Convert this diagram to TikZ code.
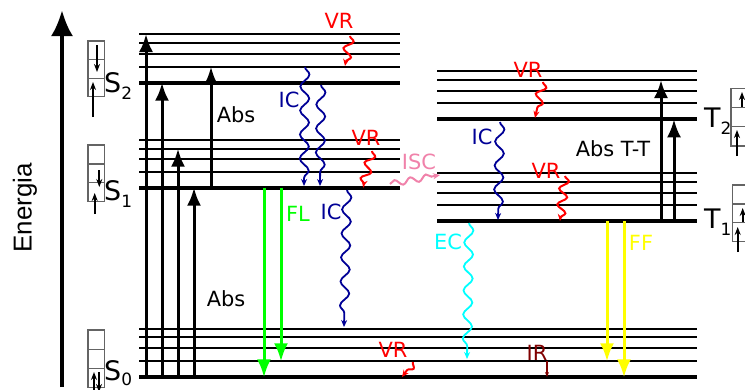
\documentclass[tikz,border=0pt]{standalone}
\usepackage{fontspec}
\setmainfont{DejaVu Sans}
\newfontfamily\arialfont{Liberation Sans}
\usetikzlibrary{arrows.meta,decorations.pathmorphing}
\definecolor{icblue}{RGB}{0,0,150}
\definecolor{iscpink}{RGB}{240,130,170}
\definecolor{irred}{RGB}{128,0,0}
\definecolor{boxgray}{RGB}{100,100,100}
\definecolor{flgreen}{RGB}{0,255,0}
\definecolor{ecyan}{RGB}{0,255,255}
\definecolor{ffyellow}{RGB}{255,255,0}
\newcommand{\sublab}[1]{\raisebox{-7bp}{\fontsize{17}{17}\selectfont #1}}
\begin{document}
\begin{tikzpicture}[x={(1bp,0)},y={(0,-1bp)},
 lev/.style={line width=2bp},
 mainlev/.style={line width=4bp},
 bigarrow/.style={line width=3bp,-{Latex[length=18bp,width=14bp]}},
 wavy/.style={line width=1.8bp, decorate, decoration={snake,segment length=24bp,amplitude=4.5bp,post length=3bp}, -{Stealth[length=7bp,width=6bp]}},
 vrwave/.style={red, line width=2bp, decorate, decoration={snake,segment length=16bp,amplitude=4.5bp,post length=3bp}, -{Stealth[length=7bp,width=6bp]}},
 lab/.style={font=\fontsize{21}{21}\selectfont, inner sep=0pt},
 statelab/.style={font=\fontsize{27}{27}\selectfont, inner sep=0pt, anchor=base west},
 spinbox/.style={draw=boxgray, line width=1.2bp},
 spin/.style={line width=1.8bp, -{Stealth[length=8bp,width=6bp]}},
]
\useasboundingbox (0,0) rectangle (745,389);
\clip (0,0) rectangle (745,389);

% energy axis
\coordinate (Ebot) at (62,387);
\coordinate (Etop) at (62,10);
\draw[line width=4bp,-{Latex[length=26bp,width=22bp]}] (Ebot) -- (Etop);
\node[rotate=90, font=\arialfont\fontsize{26}{26}\selectfont, inner sep=0pt] (energia) at (25,208) {Energia};

% singlet levels
\foreach \y in {34,43.3,54,66.7,140,148.7,159.3,172} \draw[lev] (139,\y) -- (400,\y);
\draw[mainlev] (139,82.7) -- (400,82.7);
\draw[mainlev] (139,187.7) -- (400,187.7);
\foreach \y in {329,337.3,348.3,361.3} \draw[lev] (139,\y) -- (697,\y);
\draw[mainlev] (139,377.3) -- (697,377.3);
% triplet levels
\foreach \y in {70.7,80,90.7,102.7,172.7,182,193.3,205} \draw[lev] (437,\y) -- (697,\y);
\draw[mainlev] (437,119.3) -- (697,119.3);
\draw[mainlev] (437,221.3) -- (697,221.3);

% state labels
\node[statelab] (S2) at (104,92) {S\sublab{2}};
\node[statelab] (S1) at (104,200) {S\sublab{1}};
\node[statelab] (S0) at (104,380) {S\raisebox{-5bp}{\fontsize{17}{17}\selectfont 0}};
\node[statelab] (T2) at (704,127) {T\sublab{2}};
\node[statelab] (T1) at (704,228) {T\sublab{1}};

% spin boxes
\draw[spinbox] (88,41) rectangle (104.5,96.7) (88,59.6) -- (104.5,59.6) (88,78.3) -- (104.5,78.3);
\draw[spinbox] (88,145) rectangle (104.5,201.7) (88,164) -- (104.5,164) (88,182.3) -- (104.5,182.3);
\draw[spinbox] (88,330) rectangle (104.5,387.5) (88,349.3) -- (104.5,349.3) (88,368.3) -- (104.5,368.3);
\draw[spinbox] (731,88.3) rectangle (748,146) (731,107.7) -- (748,107.7) (731,126.7) -- (748,126.7);
\draw[spinbox] (732.7,185) rectangle (749,241.7) (732.7,204) -- (749,204) (732.7,222.7) -- (749,222.7);

% spin arrows
\coordinate (sp1a) at (97,45);    \coordinate (sp1b) at (97,72);
\coordinate (sp2a) at (93,117);   \coordinate (sp2b) at (93,82);
\coordinate (sp3a) at (99.3,170); \coordinate (sp3b) at (99.3,187);
\coordinate (sp4a) at (94.7,214); \coordinate (sp4b) at (94.7,193);
\coordinate (sp5a) at (94,392);   \coordinate (sp5b) at (94,372);
\coordinate (sp6a) at (99,372);   \coordinate (sp6b) at (99,392);
\coordinate (sp7a) at (742,107);  \coordinate (sp7b) at (742,92);
\coordinate (sp8a) at (737,156);  \coordinate (sp8b) at (737,130);
\coordinate (sp9a) at (742.7,222);\coordinate (sp9b) at (742.7,208);
\coordinate (sp10a) at (737.7,252);\coordinate (sp10b) at (737.7,227);
\foreach \i in {1,...,10} \draw[spin] (sp\i a) -- (sp\i b);

% absorption arrows
\coordinate (a1s) at (146,377.3); \coordinate (a1e) at (146,34);
\coordinate (a2s) at (162,377.3); \coordinate (a2e) at (162,82.7);
\coordinate (a3s) at (178,377.3); \coordinate (a3e) at (178,148.7);
\coordinate (a4s) at (194,377.3); \coordinate (a4e) at (194,187.7);
\coordinate (a5s) at (211,187.7); \coordinate (a5e) at (211,66.7);
\coordinate (a6s) at (661,221.3); \coordinate (a6e) at (661,80);
\coordinate (a7s) at (674,221.3); \coordinate (a7e) at (674,119.3);
\foreach \i in {1,...,7} \draw[bigarrow] (a\i s) -- (a\i e);
\node[lab] (abs1) at (236,115) {Abs};
\node[lab] (abs2) at (226,299) {Abs};
\node[lab] (abstt) at (613,149) {Abs T-T};

% fluorescence
\coordinate (fl1s) at (264,187.7); \coordinate (fl1e) at (264,377.3);
\coordinate (fl2s) at (281,187.7); \coordinate (fl2e) at (281,361.3);
\draw[bigarrow,flgreen] (fl1s) -- (fl1e);
\draw[bigarrow,flgreen] (fl2s) -- (fl2e);
\node[lab,text=flgreen] (FL) at (298,214) {FL};

% phosphorescence
\coordinate (ff1s) at (607,221.3); \coordinate (ff1e) at (607,361.3);
\coordinate (ff2s) at (624,221.3); \coordinate (ff2e) at (624,377.3);
\draw[bigarrow,ffyellow] (ff1s) -- (ff1e);
\draw[bigarrow,ffyellow] (ff2s) -- (ff2e);
\node[lab,text=ffyellow] (FF) at (641,243) {FF};

% internal conversion
\coordinate (ic1s) at (305,67);  \coordinate (ic1e) at (304,186);
\coordinate (ic2s) at (321,85);  \coordinate (ic2e) at (320,186);
\coordinate (ic3s) at (347,190); \coordinate (ic3e) at (344,327);
\coordinate (ic4s) at (500,122); \coordinate (ic4e) at (498,220);
\foreach \i in {1,...,4} \draw[wavy,icblue] (ic\i s) -- (ic\i e);
\node[lab,text=icblue] (IC1) at (289,100) {IC};
\node[lab,text=icblue] (IC2) at (331,212) {IC};
\node[lab,text=icblue] (IC3) at (482,137) {IC};

% external conversion
\coordinate (ecs) at (469,223); \coordinate (ece) at (467,359);
\draw[wavy,ecyan] (ecs) -- (ece);
\node[lab,text=ecyan] (EC) at (448,242) {EC};

% vibrational relaxation
\coordinate (vr1s) at (350,36);  \coordinate (vr1e) at (345,66);
\coordinate (vr2s) at (372,151); \coordinate (vr2e) at (363,187);
\coordinate (vr3s) at (543,82);  \coordinate (vr3e) at (535,118);
\coordinate (vr4s) at (565,176); \coordinate (vr4e) at (560,221);
\coordinate (vr5s) at (413,362); \coordinate (vr5e) at (402,377);
\foreach \i in {1,...,5} \draw[vrwave] (vr\i s) -- (vr\i e);
\node[lab,text=red] (VR1) at (339,21) {VR};
\node[lab,text=red] (VR2) at (366,138) {VR};
\node[lab,text=red] (VR3) at (528,70) {VR};
\node[lab,text=red] (VR4) at (546,171) {VR};
\node[lab,text=red] (VR5) at (393,350) {VR};

% intersystem crossing
\coordinate (iscs) at (390,184); \coordinate (isce) at (440,175);
\draw[iscpink, line width=2bp, decorate, decoration={snake,segment length=16bp,amplitude=3bp,post length=3bp}, -{Stealth[length=7bp,width=6bp]}] (iscs) -- (isce);
\node[lab,text=iscpink] (ISC) at (419,162) {ISC};

% infrared
\coordinate (irs) at (547,361); \coordinate (ire) at (547,377);
\node[lab,text=irred] (IR) at (537,353) {IR};
\draw[irred, line width=1.2bp, -{Stealth[length=5bp,width=4bp]}] (irs) -- (ire);
\end{tikzpicture}
\end{document}
